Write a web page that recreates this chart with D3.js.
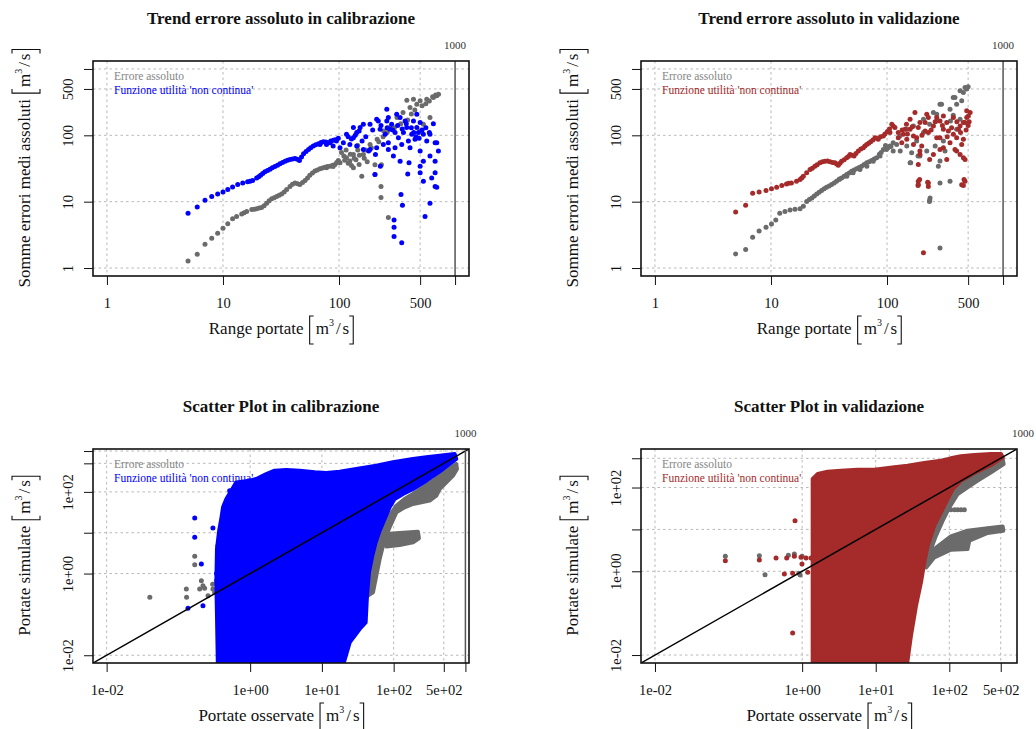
<!DOCTYPE html>
<html>
<head>
<meta charset="utf-8">
<script src="https://cdn.jsdelivr.net/npm/d3@7"></script>
<style>
    body { margin: 0; background: #ffffff; }
    svg { display: block; }
    svg text { font-family: "Liberation Serif", "Times New Roman", serif; }
</style>
</head>
<body>
<div id="chart"></div>
<script>
// =============================
// Data: trend panels  [range portate, somma errori medi assoluti]
// =============================
const calTrendGrey = [[5,1.28],[6,1.61],[7,2.28],[8,2.81],[9,3.35],[10,3.99],[11,4.64],[12.1,5.53],[13.1,6.0],[14.5,6.5],[15.2,6.8],[16,7.1],[17.7,7.6],[18.6,7.7],[19.5,7.8],[20.5,8.0],[21.5,8.2],[22.6,8.7],[23.8,9.5],[25,10.3],[26.3,11.1],[27.6,11.5],[29,12],[30.5,12.5],[32,13.1],[33.7,14],[35.4,15.2],[37.8,17],[39.7,18.3],[41.8,19.1],[44,18.6],[46,18.1],[48.5,19.5],[51,20.8],[53.5,22.8],[56,25],[59,27],[62,28.9],[65,30],[68.6,31.3],[72,32.2],[75.7,33.1],[79.5,33.8],[83.6,34.3],[88,35.5],[92.4,36.4],[95.5,39],[98.6,41.8],
    [78,32.4],[89,34],[102,38.5],[116,46],[124,41],[133,32.4],[140,43],[149,36.4],[157,24.2],[133,51.5],[162,51.5],[185,73],[213,87],[243,116],[275,131],[110,48.6],[125,52],[145,60],[170,60],[190,65],[204,36],[204,25.6],[230,17],[230,11.6],[266,5.8],[232,36],
    [105,55],[115,60],[120,38],[135,45],[150,50],[165,45],[175,40],[128,35],[112,42],[145,70],
    [316,185],[356,220],[384,339],[409,262],[438,351],[468,295],[500,331],[570,351],[650,372],[695,394],[533,147],[500,116],[608,185],[720,417],[680,405],[640,380],[600,330],[560,300],[520,280],[450,240],[420,210],[390,170],[340,150],[300,130],[260,110],[240,95],[220,80]];

const calTrendUtil = [[5,6.7],[6,8.3],[7,10.5],[8,12],[9,13.1],[10,14],[11,15.2],[12.1,16.7],[13.4,18.1],[14.8,19.2],[16.3,19.9],[17.1,20.3],[18,20.8],[19.5,22.8],[20.3,23.8],[21.1,25],[22,26.5],[23,28.2],[24.2,29.5],[25.4,30.9],[26.6,32.4],[28,33.9],[29.5,35.5],[31,37.2],[32.6,39],[34.3,40.8],[36,42],[37.8,43.3],[39.8,44],[41.8,44.9],[43.7,43.5],[45.6,41.8],[47.5,47],[49.5,52.7],[52,57],[54.6,61.4],[57,65],[60,68.9],[63,72],[66.5,74.8],[70,78],[73.3,80.2],[77,79],[81,77.4],[85,82],[89.4,84],[93,86],[98.6,90],
    [258,248],[266,185],[218,165],[284,147],[336,185],[371,165],[468,208],[468,131],[650,150],[149,116],[133,92],[116,104],[78,73],[95,82],[158,82],[180,58],[206,51.5],[266,77],[294,48.6],[336,40.8],[401,38.5],[409,65],[500,58],[500,34.3],[533,40.8],[570,82],[608,48.6],[673,40.8],[533,20.3],[629,22.8],[695,16.5],[673,27.2],[718,58],[695,77],[608,9.5],[551,6.0],[342,12.8],[352,8.8],[298,5.3],[298,4.1],[298,3.0],[347,2.4],[204,25.6],[227,34.3],[391,26.2],[500,27.2],[673,17],
    [142,110],[152,131],[185,147],[211,175],[226,123],[250,104],[275,123],[304,110],[325,92],[359,110],[383,131],[423,104],[452,87],[483,110],[533,104],[396,82],[347,73],[304,65],[266,61],[241,73],[211,65],[185,61],[162,61],[142,69],[124,73],[109,77],[89,69],[84,77],[68.6,73],[102,65],[133,131],[162,147],[258,165],[314,208],[438,165],[500,156],[608,104],[673,77],
    [120,95],[128,88],[138,100],[170,95],[195,120],[230,140],[260,130],[290,120],[320,140],[350,125],[380,150],[420,130],[440,110],[460,95],[490,90],[520,120],[560,130],[600,110]];

const valTrendGrey = [[4.96,1.63],[6.05,1.9],[6.95,2.9],[7.9,3.6],[9.06,4.1],[10.1,4.6],[11,5.3],[11.9,6.7],[13.2,7.1],[14.6,7.5],[16.1,7.7],[17.8,7.8],[19,8.5],[20.3,10.1],[21.4,10.8],[22.5,11.4],[23.6,12.2],[24.8,13.1],[26,13.9],[27.3,14.7],[28.7,15.6],[30.1,16.5],[31.7,17.3],[33.3,18.1],[35,19.2],[36.7,20.3],[38.6,21.5],[40.6,22.8],[42.7,24.2],[44.9,25.6],[47.2,27],[49.5,28.8],[52,30],[54.7,31.3],[57.5,32.8],[60.4,34.3],[63.5,36.4],[66.8,38.5],[70.2,40],[73.7,41.8],[77.5,43.8],[81.4,45.9],[86,52],[89,55],[93,61.4],[97,70],[102,65],[108,68],[113,58],[121,73],[130,58],[148,69],[163,54.6],[160,38.5],[180,82],[206,110],[233,147],[268,208],[295,295],[372,372],[426,470],[470,527],[500,540],[398,295],[352,165],[306,82],[316,58],[286,41],[235,11.4],[232,10.1],[286,2.0],[349,20.3],
    [486,498],[455,443],[385,372],[440,331],[286,295],[349,248],[251,220],[268,165],[206,175],[169,138],[148,123],[129,98],[113,77],[99,61],[106,69],[87,48.6],[76,40.8],[67,34.3],[58.5,30.5],[51,27.2],[45,24.2],[39,22],[158,38.5],[192,48.6],[220,58],[260,69],[277,34.3],[286,19.2],[233,10.5],[398,123],[426,175],[372,200],[185,48.6]];

const valTrendUtil = [[4.96,7.0],[6.05,8.8],[6.95,13.4],[7.9,14],[9.06,14.7],[10.1,15.6],[11.2,16.5],[12.4,17.5],[13.6,18.5],[14.2,18.9],[15,19.2],[16.6,20.3],[17.8,21.5],[18.4,22.8],[19,24.2],[20.3,27.2],[21.7,30.5],[22.7,32],[23.9,34.3],[25,36],[26.4,38.5],[27.8,40],[29.2,40.8],[30.7,41],[32.3,39.9],[34,39],[35.6,38.5],[36.8,37],[38,35.5],[39.3,38],[40.6,40.8],[42.7,43],[44.9,45.9],[46.5,48],[48,51.5],[50,50],[52,48.6],[54,53],[56.6,58],[59.5,62],[62.5,65],[64.5,69],[66.8,73],[69.5,76],[72.3,80],[75.5,85],[78.8,92],[81,90],[84,87],[88,95],[93,98],[96,105],[100.7,114],[105,125],[110,147],[117,131],[125,92],
    [138,104],[158,123],[174,220],[180,92],[192,156],[213,116],[227,185],[251,138],[268,92],[286,165],[306,196],[338,116],[373,185],[398,92],[426,138],[455,156],[486,185],[520,220],[169,73],[192,51.5],[186,36.4],[186,18.1],[186,20.3],[227,19.2],[251,51.5],[306,65],[398,58],[440,73],[455,46],[440,18],[470,20.3],[206,1.7],[148,87],
    [113,138],[106,110],[125,110],[143,123],[158,175],[169,98],[186,131],[199,69],[192,58],[213,156],[227,110],[268,185],[286,92],[306,123],[327,156],[349,77],[373,104],[385,61],[412,123],[426,51.5],[455,87],[470,156],[502,196],[486,234],[470,43.3],[461,21.5],[455,17.5],[191,21.5],[185,17.5],[224,19.6],[227,17],[134,77],[233,43.3],[327,43.3],[286,61],[147,147],[220,208],
    [135,120],[150,105],[165,135],[200,100],[240,120],[260,160],[300,140],[330,95],[360,130],[400,160],[430,110],[480,120],[500,140],[510,160]];

// =============================
// Data: scatter panels  [portate osservate, portate simulate]
// dense clouds are kept as outlines, sparse ones as points
// =============================
const calScatterUtilCloud = [[0.356,0.004],[0.345,0.093],[0.338,0.61],[0.345,3.99],[0.37,11.2],[0.396,21.7],[0.419,41.9],[0.466,67],[0.547,107],[0.641,171],[0.984,188],[1.22,207],[1.68,274],[2.2,331],[3.19,344],[4.9,331],[7.93,301],[11.5,290],[17.7,313],[30.2,363],[57.3,439],[97.8,529],[186,638],[285,702],[437,771],[708,847],[746,638],[487,363],[285,188],[186,118],[135,88.7],[103,67],[87.9,41.9],[74.8,21.7],[63.8,11.2],[56.1,5.8],[50.4,2.74],[45.3,1.07],[42.5,0.288],[40.7,0.064],[33.6,0.044],[24.4,0.0207],[18.6,0.004]];
const calScatterUtilPts = [[0.169,22.9],[0.169,7.7],[0.303,13.1],[0.209,1.71],[0.22,0.164],[0.136,0.141],[0.356,4.82],[0.518,107],[0.34,1.0],[0.35,0.3]];
const calScatterGreyBand = [[43.8,0.288],[46.2,1.29],[54.3,3.99],[63.8,8.5],[74.8,14.9],[87.9,26.2],[109,45.9],[142,67],[186,88.7],[256,129],[353,188],[487,301],[635,399],[746,482],[762,363],[671,249],[542,171],[437,117],[393,80.7],[317,61],[243,55.5],[186,50.5],[142,41.9],[109,31.6],[87.9,13.6],[79,8.5],[71,4.82],[63.8,2.27],[57.3,0.89],[51.5,0.347]];
const calScatterGreyBranch = [[79,9.3],[121,9.8],[218,10.6],[225,7.3],[186,5.8],[121,5.0],[79,4.6]];
const calScatterGreyPts = [[0.040,0.262],[0.129,0.419],[0.13,0.262],[0.169,2.64],[0.169,1.65],[0.198,0.419],[0.209,0.67],[0.232,0.435],[0.259,0.288],[0.303,0.419],[0.32,0.35],[0.338,0.67],[0.3,0.55],[0.22,0.5]];

const valScatterUtilCloud = [[1.39,0.004],[1.39,160],[1.63,210],[2.22,239],[3.37,253],[5.69,267],[9.57,267],[17.9,304],[27.2,333],[45.8,385],[77.1,438],[105,498],[144,556],[219,598],[369,631],[504,631],[531,526],[369,345],[219,222],[144,146],[111,92],[95,53.2],[77.1,25.6],[62.5,12.3],[50.8,4.09],[45.8,1.64],[41.2,0.544],[35.3,0.151],[30.1,0.029],[25.8,0.004]];
const valScatterUtilPts = [[0.80,16.2],[0.743,0.0336],[0.0904,1.79],[0.262,1.86],[0.442,2.08],[0.617,2.08],[0.783,2.28],[0.965,2.15],[1.13,2.08],[1.32,2.08],[0.995,1.49],[0.573,0.861],[0.743,0.894],[1.19,0.944]];
const valScatterGreyBand = [[43.4,1.36],[50.8,4.09],[62.5,10.2],[77.1,21.3],[95,44.3],[111,84],[144,133],[219,199],[369,321],[531,480],[548,364],[369,231],[243,146],[177,101],[130,70],[100,33.6],[81.3,16.2],[65.9,7.1],[56.4,3.4],[49.8,1.49]];
const valScatterGreyFan = [[45.8,1.64],[62.5,3.4],[105,6.8],[177,9.3],[332,10.6],[531,11.8],[542,9.3],[332,8.2],[187,5.4],[177,3.4],[105,3.28],[62.5,2.15],[48.8,1.24]];
const valScatterGreyPts = [[0.0904,2.28],[0.262,2.36],[0.313,0.83],[0.783,2.59],[0.94,0.815],[0.9,0.9],[0.65,2.4],[1.0,2.3],[2.73,4.09],[3.37,7.1],[3.0,5.5],[105,29.6],[118,29.6],[130,29.6],[144,29.6],[160,29.6]];

// =============================
// Ticks
// =============================
const trendTicks = [1, 10, 100, 500, 1000];
const trendTickLabels = ["1", "10", "100", "500", ""];
const scatterTicks = [0.01, 1, 10, 100, 500, 1000];
const scatterXLabels = ["1e-02", "1e+00", "1e+01", "1e+02", "5e+02", ""];
const scatterYLabels = ["1e-02", "1e+00", "", "1e+02", "", ""];

// =============================
// Shared settings
// =============================
const width = 1036, height = 729;
const serif = "Liberation Serif, Times New Roman, serif";
const greyCol = "#6b6b6b";
const blueCol = "#0000ff";
const redCol = "#a52a2a";
const gridCol = "#b8b8b8";

const svg = d3.select("#chart")
    .append("svg")
    .attr("width", width)
    .attr("height", height)
    .attr("font-family", serif);

// axis title with bracketed unit  "label [m3/s]"
const drawUnitTitle = (x, y, label, rotated) => {
    const g = svg.append("g").attr("font-family", serif);
    const main = g.append("text").attr("font-size", 17).attr("fill", "#111").text(label);
    const w1 = main.node().getComputedTextLength();
    const b1 = w1 + 6;
    g.append("path").attr("d", `M${b1 + 4},-18H${b1}V10H${b1 + 4}`)
        .attr("fill", "none").attr("stroke", "#111").attr("stroke-width", 1.1);
    const unit = g.append("text").attr("x", b1 + 6).attr("font-size", 17).attr("fill", "#111");
    unit.append("tspan").text("m");
    unit.append("tspan").attr("font-size", 10).attr("dy", -8).text("3");
    unit.append("tspan").attr("dy", 8).attr("dx", 2).text("/");
    unit.append("tspan").attr("dx", 2).text("s");
    const w2 = unit.node().getBBox().width;
    const b2 = b1 + 6 + w2 + 4;
    g.append("path").attr("d", `M${b2 - 4},-18H${b2}V10H${b2 - 4}`)
        .attr("fill", "none").attr("stroke", "#111").attr("stroke-width", 1.1);
    g.attr("transform", rotated
        ? `translate(${x},${y}) rotate(-90) translate(${-b2 / 2},0)`
        : `translate(${x - b2 / 2},${y})`);
};

const drawPanel = (p, idx) => {
    const right = p.left + p.w, bottom = p.top + p.h;
    const x = d3.scaleLog().domain(p.domain).range([p.left, right]);
    const y = d3.scaleLog().domain(p.domain).range([bottom, p.top]);
    const inDomain = t => t >= p.domain[0] && t <= p.domain[1];

    svg.append("clipPath").attr("id", "clip" + idx)
        .append("rect").attr("x", p.left).attr("y", p.top).attr("width", p.w).attr("height", p.h);

    // title
    svg.append("text")
        .text(p.title)
        .attr("x", p.left + p.w / 2)
        .attr("y", p.top - 37)
        .attr("text-anchor", "middle")
        .attr("font-family", serif)
        .attr("font-size", 17)
        .attr("font-weight", "bold")
        .attr("fill", "#111");

    const plot = svg.append("g").attr("clip-path", `url(#clip${idx})`);

    // grid
    const xt = p.xTicks.filter(inDomain), yt = p.yTicks.filter(inDomain);
    plot.selectAll(".vg").data(xt.filter(t => t !== 1000)).join("line")
        .attr("x1", d => x(d)).attr("x2", d => x(d))
        .attr("y1", p.top).attr("y2", bottom)
        .attr("stroke", gridCol).attr("stroke-dasharray", "2.5,3");
    plot.selectAll(".hg").data(yt).join("line")
        .attr("y1", d => y(d)).attr("y2", d => y(d))
        .attr("x1", p.left).attr("x2", right)
        .attr("stroke", gridCol).attr("stroke-dasharray", "2.5,3");

    // legend (drawn under the points)
    svg.append("text").text("Errore assoluto")
        .attr("x", p.left + 21).attr("y", p.top + 19)
        .attr("font-family", serif)
        .attr("font-size", 11.5).attr("fill", "#858585");
    svg.append("text").text("Funzione utilità 'non continua'")
        .attr("x", p.left + 21).attr("y", p.top + 33)
        .attr("font-family", serif)
        .attr("font-size", 11.5).attr("fill", p.colour);

    const area = d3.line().x(d => x(d[0])).y(d => y(d[1]));

    // grey series
    p.greyAreas.forEach(a => {
        plot.append("path").attr("d", area(a) + "Z")
            .attr("fill", greyCol).attr("stroke", greyCol)
            .attr("stroke-width", 4).attr("stroke-linejoin", "round");
    });
    plot.append("g").selectAll("circle").data(p.greyPts).join("circle")
        .attr("cx", d => x(d[0])).attr("cy", d => y(d[1]))
        .attr("r", p.r).attr("fill", greyCol);

    // utility-function series
    p.utilAreas.forEach(a => {
        plot.append("path").attr("d", area(a) + "Z")
            .attr("fill", p.colour).attr("stroke", p.colour)
            .attr("stroke-width", 4).attr("stroke-linejoin", "round");
    });
    plot.append("g").selectAll("circle").data(p.utilPts).join("circle")
        .attr("cx", d => x(d[0])).attr("cy", d => y(d[1]))
        .attr("r", p.r).attr("fill", p.colour);

    // 1:1 line
    if (p.identity) {
        plot.append("path").attr("d", d3.line()(p.domain.map(v => [x(v), y(v)])))
            .attr("stroke", "#000").attr("stroke-width", 1.5);
    }

    // vertical line at 1000
    if (inDomain(1000)) {
        plot.append("line")
            .attr("x1", x(1000)).attr("x2", x(1000))
            .attr("y1", p.top).attr("y2", bottom)
            .attr("stroke", "#555").attr("stroke-width", 1.5);
    }
    svg.append("text").text("1000")
        .attr("x", x(1000)).attr("y", p.top - 12)
        .attr("text-anchor", "middle")
        .attr("font-family", serif)
        .attr("font-size", 11).attr("fill", "#333");

    // box
    svg.append("rect")
        .attr("x", p.left).attr("y", p.top).attr("width", p.w).attr("height", p.h)
        .attr("fill", "none").attr("stroke", "#111").attr("stroke-width", 1.6);

    // bottom axis
    const bottomAxis = d3.axisBottom(x)
        .tickValues(xt)
        .tickFormat(d => p.xLabels[p.xTicks.indexOf(d)])
        .tickSize(9).tickSizeOuter(0);
    const gx = svg.append("g").attr("transform", `translate(0,${bottom})`).call(bottomAxis)
        .attr("font-family", serif);
    gx.select(".domain").remove();
    gx.selectAll("line").attr("stroke", "#111");
    gx.selectAll("text").attr("y", 32).attr("dy", 0)
        .attr("font-size", 14.5).attr("fill", "#111");

    // left axis
    const leftAxis = d3.axisLeft(y)
        .tickValues(yt)
        .tickFormat(d => p.yLabels[p.yTicks.indexOf(d)])
        .tickSize(9).tickSizeOuter(0);
    const gy = svg.append("g").attr("transform", `translate(${p.left},0)`).call(leftAxis)
        .attr("font-family", serif);
    gy.select(".domain").remove();
    gy.selectAll("line").attr("stroke", "#111");
    gy.selectAll("text")
        .attr("x", 0).attr("y", 0).attr("dy", 0)
        .attr("transform", "translate(-20,0) rotate(-90)")
        .attr("text-anchor", "middle")
        .attr("font-size", 14.5).attr("fill", "#111");

    // axis titles
    drawUnitTitle(p.left + p.w / 2, bottom + 58, p.xTitle, false);
    drawUnitTitle(p.left - 63, p.top + p.h / 2, p.yTitle, true);
};

const trendDomain = [10 ** -0.12, 10 ** 3.12];

const panels = [
    { left: 93, top: 61, w: 376, h: 215, domain: trendDomain,
      title: "Trend errore assoluto in calibrazione",
      xTitle: "Range portate", yTitle: "Somme errori medi assoluti",
      xTicks: trendTicks, xLabels: trendTickLabels, yTicks: trendTicks, yLabels: trendTickLabels,
      colour: blueCol, r: 2.5, identity: false,
      greyPts: calTrendGrey, utilPts: calTrendUtil, greyAreas: [], utilAreas: [] },
    { left: 641, top: 61, w: 376, h: 215, domain: trendDomain,
      title: "Trend errore assoluto in validazione",
      xTitle: "Range portate", yTitle: "Somme errori medi assoluti",
      xTicks: trendTicks, xLabels: trendTickLabels, yTicks: trendTicks, yLabels: trendTickLabels,
      colour: redCol, r: 2.5, identity: false,
      greyPts: valTrendGrey, utilPts: valTrendUtil, greyAreas: [], utilAreas: [] },
    { left: 93, top: 449, w: 376, h: 214, domain: [10 ** -2.19, 10 ** 3.05],
      title: "Scatter Plot in calibrazione",
      xTitle: "Portate osservate", yTitle: "Portate simulate",
      xTicks: scatterTicks, xLabels: scatterXLabels, yTicks: scatterTicks, yLabels: scatterYLabels,
      colour: blueCol, r: 2.5, identity: true,
      greyPts: calScatterGreyPts, utilPts: calScatterUtilPts,
      greyAreas: [calScatterGreyBand, calScatterGreyBranch], utilAreas: [calScatterUtilCloud] },
    { left: 641, top: 449, w: 376, h: 214, domain: [10 ** -2.19, 10 ** 2.92],
      title: "Scatter Plot in validazione",
      xTitle: "Portate osservate", yTitle: "Portate simulate",
      xTicks: scatterTicks, xLabels: scatterXLabels, yTicks: scatterTicks, yLabels: scatterYLabels,
      colour: redCol, r: 2.5, identity: true,
      greyPts: valScatterGreyPts, utilPts: valScatterUtilPts,
      greyAreas: [valScatterGreyBand, valScatterGreyFan], utilAreas: [valScatterUtilCloud] }
];

panels.forEach(drawPanel);
</script>
</body>
</html>
